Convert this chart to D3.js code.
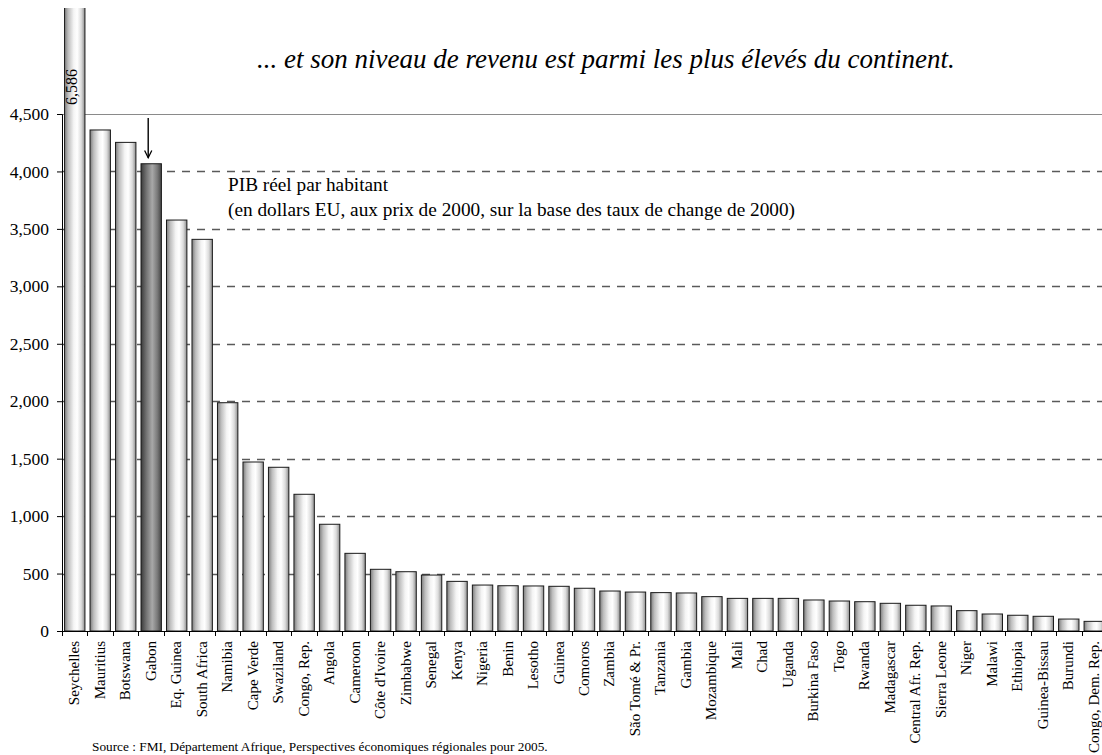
<!DOCTYPE html>
<html>
<head>
<meta charset="utf-8">
<script src="https://cdn.jsdelivr.net/npm/d3@7"></script>
<style>
  html, body { margin: 0; padding: 0; background: #fff; }
  svg { display: block; }
  svg text { font-family: "Liberation Serif", "Times New Roman", Times, serif !important; }
</style>
</head>
<body>
<svg id="chart" width="1102" height="755"></svg>
<script>
// Real GDP per capita, sub-Saharan Africa (US dollars, 2000 prices and exchange rates)
const countries = [
  "Seychelles", "Mauritius", "Botswana", "Gabon", "Eq. Guinea", "South Africa",
  "Namibia", "Cape Verde", "Swaziland", "Congo, Rep.", "Angola", "Cameroon",
  "Côte d'Ivoire", "Zimbabwe", "Senegal", "Kenya", "Nigeria", "Benin", "Lesotho",
  "Guinea", "Comoros", "Zambia", "São Tomé & Pr.", "Tanzania", "Gambia",
  "Mozambique", "Mali", "Chad", "Uganda", "Burkina Faso", "Togo", "Rwanda",
  "Madagascar", "Central Afr. Rep.", "Sierra Leone", "Niger", "Malawi",
  "Ethiopia", "Guinea-Bissau", "Burundi", "Congo, Dem. Rep."
];
const gdpPerCapita = [
  6586, 4361, 4253, 4067, 3577, 3409,
  1987, 1471, 1425, 1190, 929, 676,
  537, 516, 487, 432, 400, 394, 392,
  389, 372, 348, 339, 334, 331,
  299, 284, 284, 284, 270, 261, 255,
  241, 224, 218, 177, 148,
  137, 128, 104, 84
];
const yTicks = [0, 500, 1000, 1500, 2000, 2500, 3000, 3500, 4000, 4500];
const highlighted = "Gabon";

const titleText = "... et son niveau de revenu est parmi les plus élevés du continent.";
const noteLines = [
  "PIB réel par habitant",
  "(en dollars EU, aux prix de 2000, sur la base des taux de change de 2000)"
];
const sourceText = "Source : FMI, Département Afrique, Perspectives économiques régionales pour 2005.";

const data = countries.map((c, i) => ({ country: c, value: gdpPerCapita[i] }));

const svg = d3.select("#chart");
const plotLeft = 62, plotRight = 1107, plotBottom = 631, plotTopValue = 114, clipTop = 8;

const x = d3.scaleBand().domain(countries).range([plotLeft, plotRight]).padding(0);
const y = d3.scaleLinear().domain([0, 4500]).range([plotBottom, plotTopValue]);
const barW = x.step() * 0.8;
const barOff = (x.step() - barW) / 2;

const defs = svg.append("defs");
function hGradient(id, stops) {
  const g = defs.append("linearGradient").attr("id", id)
    .attr("x1", "0%").attr("x2", "100%").attr("y1", "0%").attr("y2", "0%");
  stops.forEach(([o, c]) => g.append("stop").attr("offset", o).attr("stop-color", c));
}
hGradient("barFill", [["0%", "#7c7c7c"], ["18%", "#bdbdbd"], ["45%", "#f4f4f4"], ["62%", "#ffffff"], ["82%", "#dcdcdc"], ["100%", "#8e8e8e"]]);
hGradient("barFillDark", [["0%", "#3a3a3a"], ["25%", "#707070"], ["55%", "#a8a8a8"], ["80%", "#7a7a7a"], ["100%", "#444444"]]);

defs.append("clipPath").attr("id", "plotClip")
  .append("rect").attr("x", 0).attr("y", clipTop).attr("width", 1102).attr("height", plotBottom - clipTop + 1);

defs.append("marker").attr("id", "arrowHead")
  .attr("viewBox", "0 0 10 10").attr("refX", 9).attr("refY", 5)
  .attr("markerWidth", 9).attr("markerHeight", 9).attr("markerUnits", "userSpaceOnUse")
  .attr("orient", "auto")
  .append("path").attr("d", "M1,1 L9,5 L1,9").attr("fill", "none")
  .attr("stroke", "#000").attr("stroke-width", 1.4);

// Gridlines: solid at the top value, dashed below
const grid = svg.append("g");
grid.selectAll("line")
  .data(yTicks.filter(d => d > 0))
  .join("line")
  .attr("x1", plotLeft).attr("x2", 1102)
  .attr("y1", d => Math.round(y(d)) + 0.5).attr("y2", d => Math.round(y(d)) + 0.5)
  .attr("stroke", d => d === 4500 ? "#8a8a8a" : "#5a5a5a")
  .attr("stroke-width", d => d === 4500 ? 1 : 1.4)
  .attr("stroke-dasharray", d => d === 4500 ? null : "8,7");

// Bars
svg.append("g").attr("clip-path", "url(#plotClip)")
  .selectAll("rect")
  .data(data)
  .join("rect")
  .attr("x", d => x(d.country) + barOff)
  .attr("y", d => y(d.value))
  .attr("width", barW)
  .attr("height", d => y(0) - y(d.value))
  .attr("fill", d => d.country === highlighted ? "url(#barFillDark)" : "url(#barFill)")
  .attr("stroke", "#1a1a1a")
  .attr("stroke-width", 1);

// Value label for the bar that runs off the scale
const tallest = data[0];
svg.append("text")
  .attr("transform", `translate(${x(tallest.country) + x.bandwidth() / 2 + 2.5},${y(4500) - 9}) rotate(-90)`)
  .attr("font-size", 16)
  .attr("fill", "#000")
  .text(d3.format(",")(tallest.value));

// Y axis
const yAxis = svg.append("g")
  .attr("transform", `translate(${plotLeft},0)`)
  .call(d3.axisLeft(y).tickValues(yTicks).tickSize(5).tickPadding(8).tickFormat(d3.format(",")));
yAxis.select(".domain").attr("stroke", "#000");
yAxis.selectAll(".tick line").attr("stroke", "#000");
yAxis.selectAll(".tick text").attr("font-size", 17.5).attr("fill", "#000");

// X axis baseline, ticks at category boundaries, rotated labels
const xAxis = svg.append("g");
xAxis.append("line")
  .attr("x1", plotLeft).attr("x2", plotRight)
  .attr("y1", y(0) + 0.5).attr("y2", y(0) + 0.5)
  .attr("stroke", "#000");
xAxis.selectAll("line.tk")
  .data(countries)
  .join("line").attr("class", "tk")
  .attr("x1", d => Math.round(x(d)) + 0.5).attr("x2", d => Math.round(x(d)) + 0.5)
  .attr("y1", y(0)).attr("y2", y(0) + 5)
  .attr("stroke", "#000");
xAxis.selectAll("text")
  .data(countries)
  .join("text")
  .attr("transform", d => `translate(${x(d) + x.bandwidth() / 2},${y(0) + 10}) rotate(-90)`)
  .attr("text-anchor", "end")
  .attr("dy", "0.3em")
  .attr("font-size", 15)
  .attr("fill", "#000")
  .text(d => d);

// Arrow pointing at the highlighted country
const hl = data.find(d => d.country === highlighted);
svg.append("line")
  .attr("x1", x(hl.country) + x.bandwidth() / 2 - 3)
  .attr("x2", x(hl.country) + x.bandwidth() / 2 - 3)
  .attr("y1", y(4500) + 4)
  .attr("y2", y(hl.value) - 6)
  .attr("stroke", "#000").attr("stroke-width", 1.4)
  .attr("marker-end", "url(#arrowHead)");

// Title
svg.append("text")
  .attr("x", 257).attr("y", 68)
  .attr("font-size", 27).attr("font-style", "italic")
  .attr("fill", "#000")
  .text(titleText);

// Series note
svg.append("text").attr("x", 228).attr("y", 191).attr("font-size", 19.3).attr("fill", "#000").text(noteLines[0]);
svg.append("text").attr("x", 228).attr("y", 216).attr("font-size", 19.3).attr("fill", "#000").text(noteLines[1]);

// Source
svg.append("text")
  .attr("x", 92).attr("y", 751)
  .attr("font-size", 13.3).attr("fill", "#000")
  .text(sourceText);
</script>
</body>
</html>
